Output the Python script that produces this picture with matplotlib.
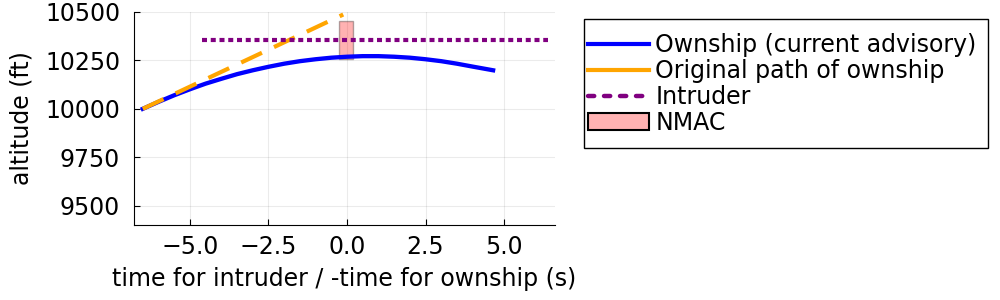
import numpy as np
import matplotlib
matplotlib.use("Agg")
from matplotlib import pyplot as plt
from matplotlib.patches import Patch, Rectangle
from matplotlib.lines import Line2D

# ownship (current advisory)
own_t = [-6.5, -6.0, -5.5, -5.0, -4.5, -4.0, -3.5, -3.0, -2.5, -2.0, -1.5, -1.0,
         -0.5, 0.0, 0.5, 1.0, 1.5, 2.0, 2.5, 3.0, 3.5, 4.0, 4.65]
own_alt = [10000, 10036, 10070, 10101, 10130, 10155, 10179, 10199, 10217, 10233,
           10246, 10256, 10264, 10269, 10272, 10272, 10269, 10264, 10256, 10246,
           10233, 10218, 10199]

# original path of ownship
orig_t = [-6.5, -0.12]
orig_alt = [10000, 10487]

# intruder
intr_t = [-4.6, 6.4]
intr_alt = [10356, 10356]

# NMAC box
nmac_t = [-0.25, 0.2]
nmac_alt = [10256, 10456]

fs = 17
plt.rcParams['font.family'] = ['DejaVu Sans']
fig = plt.figure(figsize=(10, 3), dpi=100)
ax = fig.add_axes([0.134, 0.25, 0.421, 0.71])

ax.fill_between(nmac_t, nmac_alt[0], nmac_alt[1], facecolor=(1, 0, 0, 0.3),
                edgecolor=(0, 0, 0, 0.3), linewidth=1, zorder=2)
ax.plot(own_t, own_alt, color='blue', lw=3.1, zorder=3)
ax.plot(orig_t, orig_alt, color='orange', lw=3, linestyle=(0, (5.5, 3.2)), zorder=4)
ax.plot(intr_t, intr_alt, color='purple', lw=3, linestyle=(0, (1.2, 0.9)), zorder=4)

ax.set_xlim(-6.78, 6.62)
ax.set_ylim(9400, 10500)
ax.set_xticks([-5, -2.5, 0, 2.5, 5])
ax.set_xticklabels(['\u22125.0', '\u22122.5', '0.0', '2.5', '5.0'])
ax.set_yticks([9500, 9750, 10000, 10250, 10500])
ax.grid(True, color='black', alpha=0.08, lw=0.8)
ax.set_axisbelow(True)
for s in ['top', 'right']:
    ax.spines[s].set_visible(False)
ax.tick_params(direction='in', length=4, labelsize=fs)
ax.tick_params(axis='y', pad=10)
ax.tick_params(axis='x', pad=7)
ax.set_xlabel('time for intruder / -time for ownship (s)', fontsize=fs, labelpad=6)
ax.set_ylabel('altitude (ft)', fontsize=fs, labelpad=8)

handles = [Line2D([], [], color='blue', lw=3),
           Line2D([], [], color='orange', lw=3),
           Line2D([], [], color='purple', lw=3.2, linestyle=(0, (1.4, 2.2)),
                  dash_capstyle='round'),
           Patch(facecolor=(1, 0, 0, 0.3), edgecolor='black', lw=1.5)]
labels = ['Ownship (current advisory)', 'Original path of ownship', 'Intruder', 'NMAC']
leg = fig.legend(handles, labels, loc='upper left', bbox_to_anchor=(0.588, 0.89),
                 fontsize=fs, handlelength=2.6, handletextpad=0.25, labelspacing=0.08,
                 borderpad=0, borderaxespad=0, frameon=False)
fig.patches.append(Rectangle((0.584, 1 - 148 / 300), 0.404, 129 / 300,
                             transform=fig.transFigure, fill=False,
                             edgecolor='black', lw=1))

fig.savefig('out.png', dpi=100)
